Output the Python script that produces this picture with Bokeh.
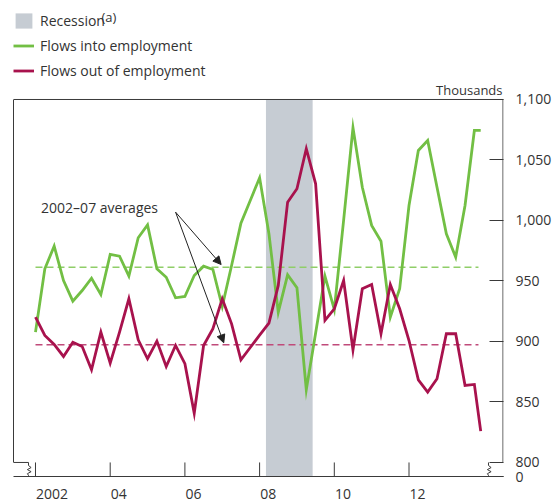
from bokeh.plotting import figure
from bokeh.models import (Range1d, LinearAxis, FixedTicker, NumeralTickFormatter, Label,
                          Arrow, NormalHead, Legend, LegendItem)
from bokeh.embed import file_html
from bokeh.resources import INLINE

# ---------------- data ----------------
quarters = [2002 + q / 4 for q in range(48)] + [2013.92]

flows_into = [907.7, 960.1, 978.8, 950.4, 933.3, 942.1, 952.3, 938.8, 971.9, 970.5,
              954.0, 985.7, 996.4, 960.1, 953.1, 936.1, 937.2, 954.5, 962.2, 959.5,
              928.9, 962.8, 997.8, 1016.5, 1035.3, 989.0, 924.2, 955.1, 944.4, 860.1,
              907.0, 954.0, 926.4, 1000.3, 1076.6, 1027.5, 995.9, 982.9, 920.1, 943.6,
              1012.4, 1057.9, 1066.1, 1027.5, 989.0, 969.7, 1012.4, 1074.4, 1074.4]

flows_out = [920.1, 905.0, 897.5, 887.6, 899.4, 895.9, 876.6, 907.7, 882.1, 907.7,
             935.3, 901.4, 885.7, 900.3, 879.3, 896.7, 881.6, 840.7, 896.7, 910.5,
             935.3, 914.6, 884.9, 895.0, 905.2, 915.1, 946.3, 1015.1, 1026.2, 1059.3,
             1030.3, 917.4, 927.0, 950.4, 893.1, 943.6, 947.1, 906.4, 947.1, 927.0,
             900.8, 868.3, 858.1, 869.2, 906.4, 906.4, 863.6, 864.5, 825.9]

avg_period = [2002.0, 2013.86]
avg_into = 961.4
avg_out = 897.3

recession = [2008.17, 2009.42]

tick_years = [2002, 2004, 2006, 2008, 2010, 2012]
tick_labels = ["2002", "04", "06", "08", "10", "12"]
label_shift = [0.44, 0.23, 0.23, 0.23, 0.23, 0.23]

y_ticks = [800, 850, 900, 950, 1000, 1050, 1100]

# ---------------- style ----------------
FONT = "Open Sans"
TEXT = "#333333"
AXIS = "#3a3a3a"
GREEN = "#72bf44"
RED = "#a8124d"
GREEN_AVG = "#8fce68"
RED_AVG = "#c04a7a"
GREY = "#c6ccd3"

PX_X = 37.35          # pixels per year
PX_Y = 1.21           # pixels per thousand
X0, X1 = 2001.411, 2014.53
BREAK, TOP = 800, 1100
Y0 = 788.4            # bottom of the axis break ("0")
Y1 = TOP + 99 / PX_Y  # frame reaches the top of the canvas (legend area)

p = figure(width=555, height=507, output_backend="svg", toolbar_location=None,
           x_range=Range1d(X0, X1), y_range=Range1d(Y0, Y1), y_axis_location="right",
           min_border_left=13, min_border_right=52, min_border_top=0, min_border_bottom=31)
p.outline_line_color = None
p.grid.visible = False
p.background_fill_color = "white"
p.border_fill_color = "white"

# recession shading
rec = p.quad(left=[recession[0]], right=[recession[1]], bottom=[Y0], top=[TOP],
             fill_color=GREY, line_color=None)

# averages
p.line(avg_period, [avg_into, avg_into], line_color=GREEN_AVG, line_width=1.5, line_dash="7 4")
p.line(avg_period, [avg_out, avg_out], line_color=RED_AVG, line_width=1.5, line_dash="7 4")

# series
g = p.line(quarters, flows_into, line_color=GREEN, line_width=2.8, line_join="miter")
r = p.line(quarters, flows_out, line_color=RED, line_width=2.8, line_join="miter")

# x tick marks (inside, in the break zone)
p.segment(x0=tick_years, y0=[Y0] * len(tick_years), x1=tick_years, y1=[BREAK] * len(tick_years),
          line_color=AXIS, line_width=1)

# box: top line and right line (as glyphs inside the frame)
edge = 0.5 / PX_X
p.line([X0, X1], [TOP, TOP], line_color=AXIS, line_width=1)
p.line([X1 - edge, X1 - edge], [BREAK, TOP], line_color=AXIS, line_width=1)

# axis breaks
lbx = X0 + 15 / PX_X
rbx = X1 - 15 / PX_X
zz_dx = [0, 0, 0.07, -0.03, 0.07, -0.03, 0, 0]
zz_y = [BREAK, BREAK - 2.5, BREAK - 4.2, BREAK - 5.9, BREAK - 7.6, BREAK - 9.3, BREAK - 10.6, Y0]
p.line([X0, lbx], [BREAK, BREAK], line_color=AXIS, line_width=1)
p.line([lbx + d for d in zz_dx], zz_y, line_color=AXIS, line_width=1)
p.line([rbx + d for d in zz_dx], zz_y, line_color=AXIS, line_width=1)

# bottom axis (labels)
xa = p.xaxis[0]
xa.ticker = FixedTicker(ticks=[t + s for t, s in zip(tick_years, label_shift)])
xa.major_label_overrides = {t + s: l for t, s, l in zip(tick_years, label_shift, tick_labels)}
xa.major_tick_in = 0
xa.major_tick_out = 0
xa.minor_tick_in = 0
xa.minor_tick_out = 0
xa.major_label_standoff = 12
xa.axis_line_color = AXIS
xa.major_label_text_font = FONT
xa.major_label_text_font_size = "14px"
xa.major_label_text_color = TEXT

# right axis (values)
ya = p.yaxis[0]
ya.ticker = FixedTicker(ticks=[Y0] + y_ticks)
ya.formatter = NumeralTickFormatter(format="0,0")
ya.major_label_overrides = {Y0: "0"}
ya.major_tick_in = 14
ya.major_tick_out = 0
ya.minor_tick_in = 0
ya.minor_tick_out = 0
ya.major_tick_line_color = AXIS
ya.axis_line_color = None
ya.major_label_standoff = 12
ya.major_label_text_font = FONT
ya.major_label_text_font_size = "14px"
ya.major_label_text_color = TEXT

# left axis line
la = LinearAxis(ticker=FixedTicker(ticks=[]), bounds=(BREAK, TOP), major_tick_in=0, major_tick_out=0,
                minor_tick_in=0, minor_tick_out=0, major_label_text_font_size="0px",
                major_label_standoff=0, axis_line_color=AXIS)
p.add_layout(la, "left")

# units
p.add_layout(Label(x=X1, y=TOP, x_offset=-1, y_offset=9, text="Thousands", text_font=FONT,
                   text_font_size="13px", text_color=TEXT, text_baseline="alphabetic",
                   text_align="right"))

# averages annotation
p.add_layout(Label(x=2002.15, y=1011, text="2002\u201307 averages", text_font=FONT,
                   text_font_size="14px", text_color=TEXT, text_baseline="middle", text_align="left"))
for xe, ye in [(2006.97, 963.6), (2007.04, 898.9)]:
    p.add_layout(Arrow(end=NormalHead(size=8, fill_color="#222222", line_color="#222222", line_width=1),
                       x_start=2005.75, y_start=1006.9, x_end=xe, y_end=ye,
                       line_color="#222222", line_width=1))

# legend
legend = Legend(items=[LegendItem(label="Recession", renderers=[rec]),
                       LegendItem(label="Flows into employment", renderers=[g]),
                       LegendItem(label="Flows out of employment", renderers=[r])],
                location=(0, 396), orientation="vertical",
                glyph_width=21, glyph_height=19, label_height=19, label_standoff=6,
                spacing=6, padding=0, margin=0, border_line_color=None,
                background_fill_alpha=0, label_text_font=FONT, label_text_font_size="14px",
                label_text_color=TEXT)
p.add_layout(legend)
p.add_layout(Label(x=88, y=459.5, x_units="screen", y_units="screen", text="(a)", text_font=FONT,
                   text_font_size="13px", text_color=TEXT, text_baseline="middle", text_align="left"))

open("out.html", "w").write(file_html(p, INLINE))
